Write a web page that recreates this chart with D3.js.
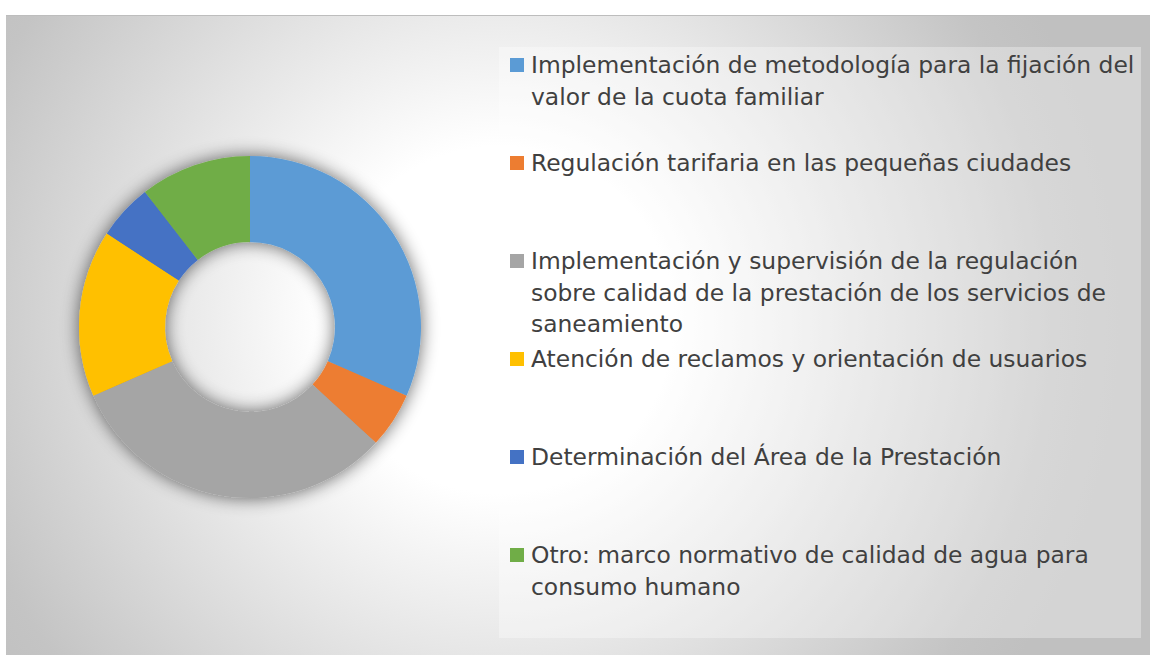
<!DOCTYPE html>
<html>
<head>
<meta charset="utf-8">
<script src="https://cdn.jsdelivr.net/npm/d3@7"></script>
<style>
  body { margin: 0; background: #ffffff; }
  svg { display: block; }
</style>
</head>
<body>
<script>
var labels = [
  "Implementación de metodología para la fijación del\nvalor de la cuota familiar",
  "Regulación tarifaria en las pequeñas ciudades",
  "Implementación y supervisión de la regulación\nsobre calidad de la prestación de los servicios de\nsaneamiento",
  "Atención de reclamos y orientación de usuarios",
  "Determinación del Área de la Prestación",
  "Otro: marco normativo de calidad de agua para\nconsumo humano"
];
var values = [6, 1, 6, 3, 1, 2];
var colors = ["#5B9BD5", "#ED7D31", "#A5A5A5", "#FFC000", "#4472C4", "#70AD47"];

var width = 1150, height = 655;

var svg = d3.select("body").append("svg")
    .attr("width", width)
    .attr("height", height);

var defs = svg.append("defs");

var grad = defs.append("radialGradient")
    .attr("id", "bg")
    .attr("gradientUnits", "userSpaceOnUse")
    .attr("cx", 500).attr("cy", 320).attr("r", 620);
grad.append("stop").attr("offset", "0").attr("stop-color", "#ffffff");
grad.append("stop").attr("offset", "0.28").attr("stop-color", "#ffffff");
grad.append("stop").attr("offset", "0.9").attr("stop-color", "#c4c4c4");
grad.append("stop").attr("offset", "1").attr("stop-color", "#c0c0c0");

var shadow = defs.append("filter")
    .attr("id", "shadow")
    .attr("x", "-30%").attr("y", "-30%")
    .attr("width", "160%").attr("height", "160%");
shadow.append("feGaussianBlur")
    .attr("in", "SourceAlpha")
    .attr("stdDeviation", 9)
    .attr("result", "blur");
shadow.append("feComponentTransfer")
    .attr("in", "blur")
    .attr("result", "soft")
  .append("feFuncA")
    .attr("type", "linear")
    .attr("slope", 0.6);
var merge = shadow.append("feMerge");
merge.append("feMergeNode").attr("in", "soft");
merge.append("feMergeNode").attr("in", "SourceGraphic");

// chart area
svg.append("rect")
    .attr("x", 6).attr("y", 15)
    .attr("width", width - 6).attr("height", height - 15)
    .attr("fill", "url(#bg)");
svg.append("line")
    .attr("x1", 6).attr("x2", width)
    .attr("y1", 15.5).attr("y2", 15.5)
    .attr("stroke", "#bdbdbd")
    .attr("stroke-width", 1);

// donut
var cx = 250, cy = 327;
var pie = d3.pie().sort(null).value(function(d){ return d; });
var arc = d3.arc().innerRadius(85).outerRadius(171);

var donut = svg.append("g")
    .attr("transform", "translate(" + cx + "," + cy + ")")
    .attr("filter", "url(#shadow)");

donut.selectAll("path")
    .data(pie(values))
    .enter().append("path")
    .attr("d", arc)
    .attr("fill", function(d, i){ return colors[i]; });

// legend
svg.append("rect")
    .attr("x", 499).attr("y", 47)
    .attr("width", 642).attr("height", 591)
    .attr("fill", "#ffffff")
    .attr("fill-opacity", 0.32);

var legendY = d3.scaleLinear().domain([0, 1]).range([73, 171]);

var item = svg.append("g").selectAll("g")
    .data(labels)
    .enter().append("g")
    .attr("transform", function(d, i){ return "translate(0," + legendY(i) + ")"; });

item.append("rect")
    .attr("x", 510).attr("y", -15)
    .attr("width", 14).attr("height", 14)
    .attr("fill", function(d, i){ return colors[i]; });

item.append("text")
    .attr("x", 531)
    .attr("font-family", "'DejaVu Sans', sans-serif")
    .attr("font-size", 23.4)
    .attr("fill", "#404040")
    .selectAll("tspan")
    .data(function(d){ return d.split("\n"); })
    .enter().append("tspan")
    .attr("x", 531)
    .attr("y", function(d, j){ return j * 31.5; })
    .text(function(d){ return d; });
</script>
</body>
</html>
